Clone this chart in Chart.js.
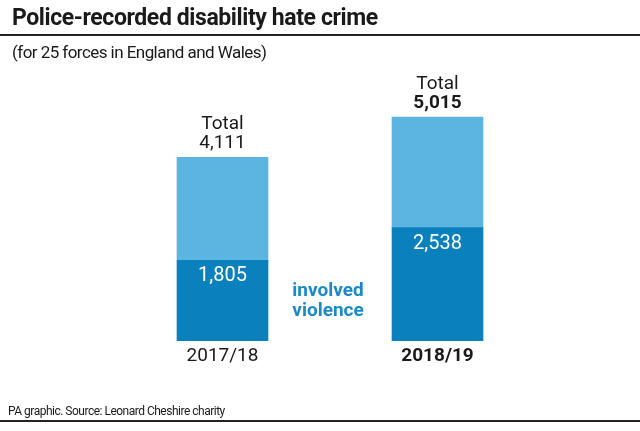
<!DOCTYPE html>
<html>
<head>
<meta charset="utf-8">
<script src="https://cdn.jsdelivr.net/npm/chart.js@4"></script>
<style>
  html, body { margin: 0; padding: 0; background: #fff; }
  body { width: 640px; height: 431px; position: relative; overflow: hidden; font-family: Roboto, "Liberation Sans", sans-serif; color: #1a1a1a; }
  #title { position: absolute; left: 12px; top: 4px; font-size: 23px; font-weight: 700; letter-spacing: -0.4px; white-space: nowrap; }
  #rule-top { position: absolute; left: 0; top: 34px; width: 640px; height: 2px; background: #222; }
  #subtitle { position: absolute; left: 12px; top: 42px; font-size: 17px; letter-spacing: -0.55px; white-space: nowrap; }
  #footer { position: absolute; left: 8px; top: 404px; font-size: 12px; letter-spacing: -0.5px; white-space: nowrap; }
  #rule-bottom { position: absolute; left: 0; top: 420px; width: 640px; height: 2px; background: #222; }
  #wrap { position: absolute; left: 0; top: 0; width: 640px; height: 431px; }
</style>
</head>
<body>
<div id="wrap"><canvas id="chart" width="640" height="431"></canvas></div>
<div id="title">Police-recorded disability hate crime</div>
<div id="rule-top"></div>
<div id="subtitle">(for 25 forces in England and Wales)</div>
<div id="footer">PA graphic. Source: Leonard Cheshire charity</div>
<div id="rule-bottom"></div>
<script>
// ========== DATA ==========
const years = ['2017/18', '2018/19'];
const totals = [4111, 5015];
const violence = [1805, 2538];
const otherCrimes = totals.map((t, i) => t - violence[i]);

const COLORS = { light: '#5bb5e0', dark: '#0a80bd', label: '#1a8ac7', text: '#1a1a1a' };
const FONT = 'Roboto, "Liberation Sans", sans-serif';

const fmt = v => v.toLocaleString('en-GB');

// labels drawn on top of the bars, positioned from the scales
const barLabels = {
    id: 'barLabels',
    afterDatasetsDraw(chart) {
        const ctx = chart.ctx;
        const x = chart.scales.x, y = chart.scales.y;
        ctx.save();
        ctx.textAlign = 'center';
        ctx.textBaseline = 'middle';
        years.forEach((yr, i) => {
            const cx = x.getPixelForValue(i);
            const bold = i === years.length - 1;
            const topY = y.getPixelForValue(totals[i]);
            ctx.fillStyle = COLORS.text;
            ctx.font = `19px ${FONT}`;
            ctx.fillText('Total', cx, topY - 33);
            ctx.font = `${bold ? 'bold ' : ''}19px ${FONT}`;
            ctx.fillText(fmt(totals[i]), cx, topY - 14);
            // violence value inside the dark segment
            ctx.fillStyle = '#fff';
            ctx.font = `20px ${FONT}`;
            ctx.fillText(fmt(violence[i]), cx, y.getPixelForValue(violence[i]) + 16);
            // category label under the bar
            ctx.fillStyle = COLORS.text;
            ctx.font = `${bold ? 'bold ' : ''}19px ${FONT}`;
            ctx.fillText(yr, cx, y.getPixelForValue(0) + 15);
        });
        // "involved violence" key between the bars
        const mid = (x.getPixelForValue(0) + x.getPixelForValue(1)) / 2 - 2;
        ctx.fillStyle = COLORS.label;
        ctx.font = `bold 19px ${FONT}`;
        ctx.fillText('involved', mid, y.getPixelForValue(0) - 50);
        ctx.fillText('violence', mid, y.getPixelForValue(0) - 30);
        ctx.restore();
    }
};

new Chart(document.getElementById('chart'), {
    type: 'bar',
    data: {
        labels: years,
        datasets: [
            { label: 'Involved violence', data: violence, backgroundColor: COLORS.dark, barThickness: 91 },
            { label: 'Other', data: otherCrimes, backgroundColor: COLORS.light, barThickness: 91 }
        ]
    },
    options: {
        responsive: false, animation: false,
        layout: { padding: { left: 115, right: 95, top: 73, bottom: 90 } },
        scales: {
            x: { stacked: true, display: false },
            y: { stacked: true, display: false, min: 0, max: 6000 }
        },
        plugins: { legend: { display: false }, tooltip: { enabled: false } }
    },
    plugins: [barLabels]
});
</script>
</body>
</html>
